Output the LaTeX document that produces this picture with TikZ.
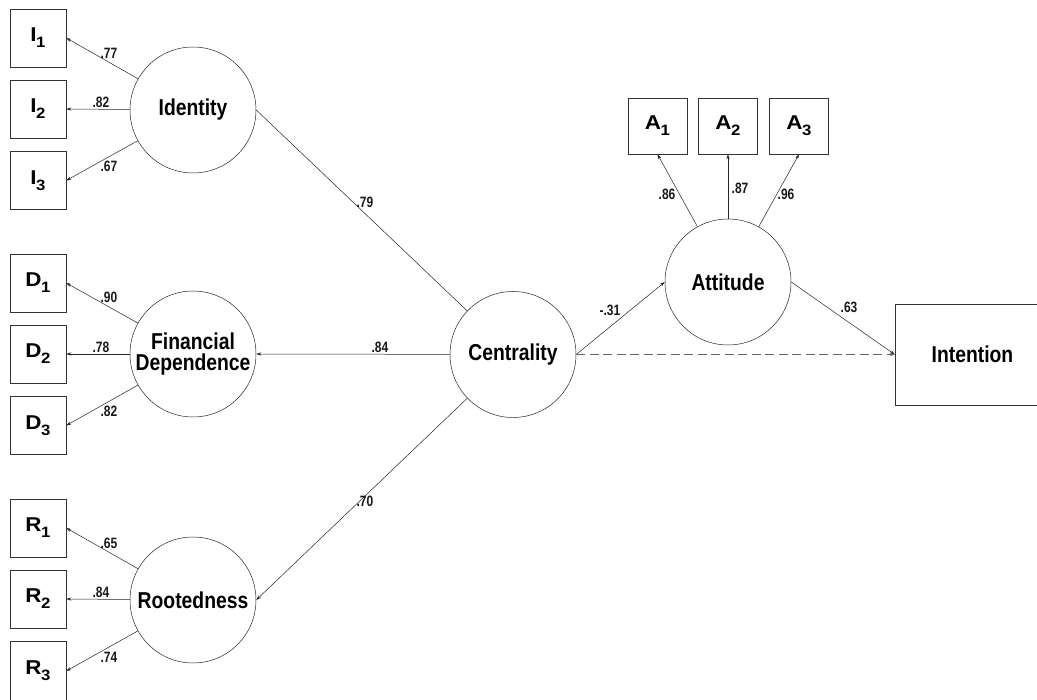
\documentclass[tikz,border=0pt]{standalone}
\usepackage{fontspec}
\setmainfont{Liberation Sans}
\newfontfamily\circfont{Liberation Sans}[FakeStretch=0.84]
\newfontfamily\coeffont{Liberation Sans}[FakeStretch=0.8]
\newfontfamily\boxfont{Liberation Sans}[FakeStretch=1.12]
\usetikzlibrary{arrows.meta}
\newcommand{\ind}[2]{#1\kern-0.5pt\raisebox{-0.3em}{\fontsize{15}{15}\selectfont #2}}
\tikzset{
  obs/.style={draw=black!80, line width=0.6pt, minimum width=56pt, minimum height=58pt, inner sep=0pt,
    font=\boxfont\bfseries\fontsize{20}{20}\selectfont},
  obsA/.style={obs, minimum width=59pt, minimum height=56pt},
  lat/.style={draw=black!85, circle, line width=0.5pt, minimum size=126pt, inner sep=0pt, align=center,
    font=\circfont\bfseries\fontsize{23}{21}\selectfont},
  path/.style={line width=0.5pt, draw=black!85, -{Stealth[length=5pt,width=3.2pt]}},
  coef/.style={font=\coeffont\bfseries\fontsize{15}{15}\selectfont, inner sep=1pt, text=black!90}
}
\begin{document}
\begin{tikzpicture}[x=1pt,y=-1pt]
\clip (0,0) rectangle (1037,700);
\fill[white] (0,0) rectangle (1037,700);
% observed left
\node[obs] (I1) at (38,38) {\ind{I}{1}};
\node[obs] (I2) at (38,109) {\ind{I}{2}};
\node[obs] (I3) at (38,180.5) {\ind{I}{3}};
\node[obs] (D1) at (38,283) {\ind{D}{1}};
\node[obs] (D2) at (38,354) {\ind{D}{2}};
\node[obs] (D3) at (38,425.5) {\ind{D}{3}};
\node[obs] (R1) at (38,528) {\ind{R}{1}};
\node[obs] (R2) at (38,599) {\ind{R}{2}};
\node[obs, minimum height=60pt] (R3) at (38,671) {\ind{R}{3}};
% latent
\node[lat] (Id) at (193,110) {Identity};
\node[lat] (Fin) at (193,354) {Financial\\Dependence};
\node[lat] (Root) at (193,600) {Rootedness};
\node[lat] (Cent) at (513,354.5) {Centrality};
\node[lat] (Att) at (728,282) {Attitude};
% attitude indicators
\node[obsA] (A1) at (657.5,126) {\ind{A}{1}};
\node[obsA] (A2) at (728,126) {\ind{A}{2}};
\node[obsA] (A3) at (799,126) {\ind{A}{3}};
% intention
\node[obs, minimum width=155pt, minimum height=101pt, font=\circfont\bfseries\fontsize{23}{22}\selectfont] (Int) at (972.5,354.5) {Intention};
% loadings
\draw[path] (Id) -- (I1.east);
\draw[path] (Id) -- (I2.east);
\draw[path] (Id) -- (I3.east);
\draw[path] (Fin) -- (D1.east);
\draw[path] (Fin) -- (D2.east);
\draw[path] (Fin) -- (D3.east);
\draw[path] (Root) -- (R1.east);
\draw[path] (Root) -- (R2.east);
\draw[path] (Root) -- (R3.east);
\draw[path] (Att) -- (A1.south);
\draw[path] (Att) -- (A2.south);
\draw[path] (Att) -- (A3.south);
% second order
\draw[line width=0.5pt, draw=black!85] (Cent) -- (Id.east);
\draw[path] (Cent) -- (Fin.east);
\draw[path] (Cent) -- (Root.east);
% structural
\draw[path] (Cent.east) -- (Att.west);
\draw[path] (Att.east) -- (Int.west);
\draw[path, draw=black!60, dash pattern=on 9pt off 4.5pt] (Cent.east) -- (Int.west);
% coefficients
\node[coef] (c1) at (109,53) {.77};
\node[coef] (c2) at (101,102) {.82};
\node[coef] (c3) at (109,166) {.67};
\node[coef] (c4) at (109,297) {.90};
\node[coef] (c5) at (101,347) {.78};
\node[coef] (c6) at (109,411) {.82};
\node[coef] (c7) at (109,543) {.65};
\node[coef] (c8) at (101,592) {.84};
\node[coef] (c9) at (109,657) {.74};
\node[coef] (c10) at (365,202) {.79};
\node[coef] (c11) at (380,347) {.84};
\node[coef] (c12) at (365,501) {.70};
\node[coef] (c13) at (610,310) {-.31};
\node[coef] (c14) at (849,307) {.63};
\node[coef] (c15) at (667,194) {.86};
\node[coef] (c16) at (740,188) {.87};
\node[coef] (c17) at (786,194) {.96};
\end{tikzpicture}
\end{document}
